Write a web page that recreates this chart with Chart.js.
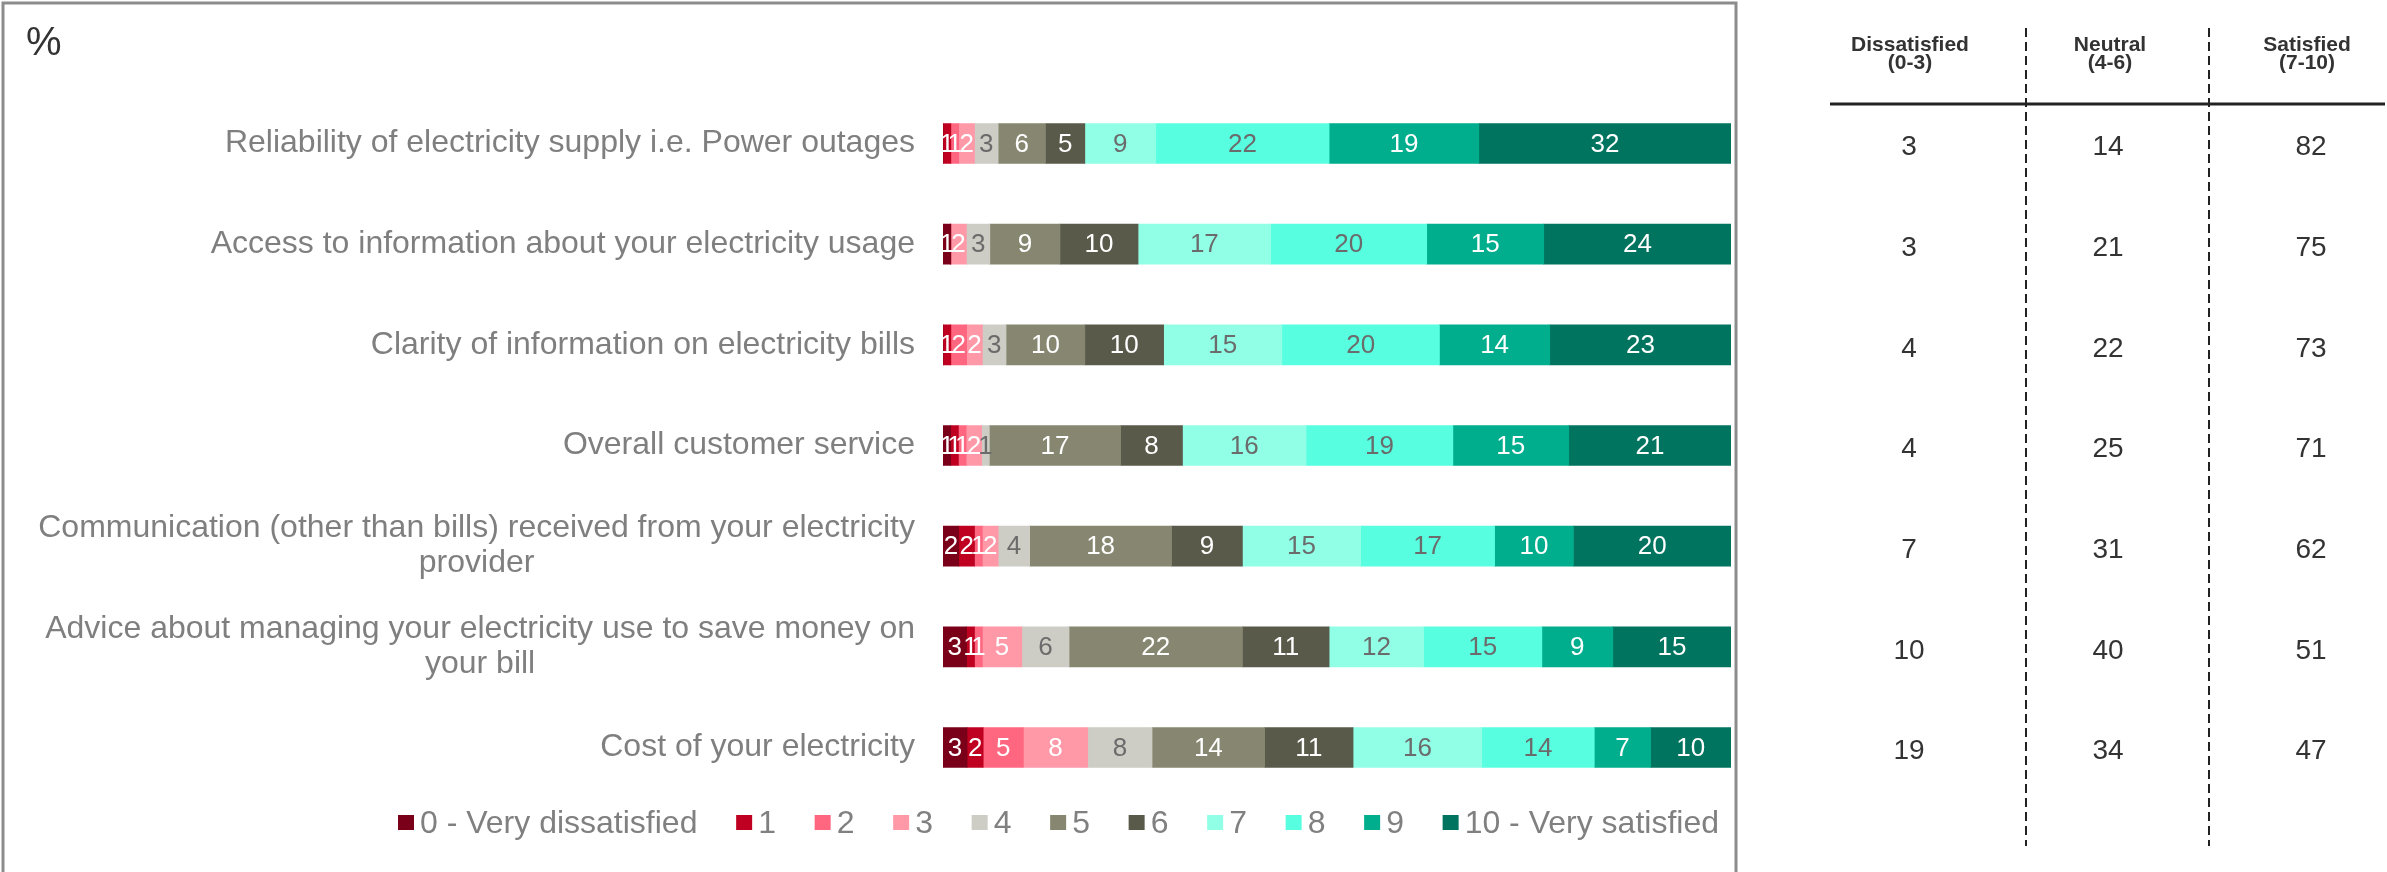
<!DOCTYPE html>
<html>
<head>
<meta charset="utf-8">
<script src="https://cdn.jsdelivr.net/npm/chart.js@4.4.1/dist/chart.umd.min.js"></script>
<style>
    html, body { margin: 0; padding: 0; background: #fff; }
</style>
</head>
<body>
<canvas id="myChart" width="2387" height="872"></canvas>
<script>
var categories = [
    'Reliability of electricity supply i.e. Power outages',
    'Access to information about your electricity usage',
    'Clarity of information on electricity bills',
    'Overall customer service',
    ['Communication (other than bills) received from your electricity', 'provider'],
    ['Advice about managing your electricity use to save money on', 'your bill'],
    'Cost of your electricity'
];

var scoreLabels = ['0 - Very dissatisfied', '1', '2', '3', '4', '5', '6', '7', '8', '9', '10 - Very satisfied'];

var score0  = [0, 1, 0, 1, 2, 3, 3];
var score1  = [1, 0, 1, 1, 2, 1, 2];
var score2  = [1, 0, 2, 1, 1, 1, 5];
var score3  = [2, 2, 2, 2, 2, 5, 8];
var score4  = [3, 3, 3, 1, 4, 6, 8];
var score5  = [6, 9, 10, 17, 18, 22, 14];
var score6  = [5, 10, 10, 8, 9, 11, 11];
var score7  = [9, 17, 15, 16, 15, 12, 16];
var score8  = [22, 20, 20, 19, 17, 15, 14];
var score9  = [19, 15, 14, 15, 10, 9, 7];
var score10 = [32, 24, 23, 21, 20, 15, 10];

var tableHeaders = [['Dissatisfied', '(0-3)'], ['Neutral', '(4-6)'], ['Satisfied', '(7-10)']];
var dissatisfied = [3, 3, 4, 4, 7, 10, 19];
var neutral      = [14, 21, 22, 25, 31, 40, 34];
var satisfied    = [82, 75, 73, 71, 62, 51, 47];

var seriesValues = [score0, score1, score2, score3, score4, score5, score6, score7, score8, score9, score10];
var colors = ['#7a0019', '#c00020', '#ff6680', '#ff99a8', '#cdcdc5', '#878771',
              '#5a5a4b', '#91ffe6', '#57ffe0', '#00ad8c', '#00745f'];
var labelColors = ['#fff', '#fff', '#fff', '#fff', '#6b6b6b', '#fff',
                   '#fff', '#6b6b6b', '#6b6b6b', '#fff', '#fff'];

var FONT = '"Liberation Sans", Arial, sans-serif';

// rows are shares of 100%, rounding makes some add to 98-102
var rowTotals = categories.map(function (c, i) {
    return seriesValues.reduce(function (s, arr) { return s + arr[i]; }, 0);
});

var datasets = seriesValues.map(function (vals, k) {
    return {
        label: scoreLabels[k],
        data: vals.map(function (v, i) { return v * 100 / rowTotals[i]; }),
        backgroundColor: colors[k],
        borderWidth: 0,
        barThickness: 40
    };
});

var extras = {
    id: 'extras',
    afterDatasetsDraw: function (chart) {
        var ctx = chart.ctx;
        ctx.save();
        ctx.font = '26px ' + FONT;
        ctx.textAlign = 'center';
        ctx.textBaseline = 'middle';
        chart.data.datasets.forEach(function (ds, k) {
            chart.getDatasetMeta(k).data.forEach(function (bar, i) {
                var v = seriesValues[k][i];
                if (!v) return;
                var p = bar.getCenterPoint();
                ctx.fillStyle = labelColors[k];
                ctx.fillText(String(v), p.x, p.y + 1);
            });
        });
        ctx.restore();
    },
    afterDraw: function (chart) {
        var ctx = chart.ctx;
        var yScale = chart.scales.y;
        ctx.save();

        // frame round the chart part
        ctx.strokeStyle = '#8c8c8c';
        ctx.lineWidth = 3;
        ctx.strokeRect(3, 3, 1733, 900);

        ctx.fillStyle = '#333';
        ctx.font = '40px ' + FONT;
        ctx.textAlign = 'left';
        ctx.textBaseline = 'middle';
        ctx.fillText('%', 26, 44);

        // category labels, right aligned block, lines centred in it
        ctx.font = '32px ' + FONT;
        ctx.fillStyle = '#7f7f7f';
        ctx.textAlign = 'center';
        categories.forEach(function (cat, i) {
            var lines = [].concat(cat);
            var widest = 0;
            lines.forEach(function (l) { widest = Math.max(widest, ctx.measureText(l).width); });
            var cx = 915 - widest / 2;
            var y = yScale.getPixelForValue(i);
            lines.forEach(function (l, j) {
                ctx.fillText(l, cx, y + (j - (lines.length - 1) / 2) * 35);
            });
        });

        // legend
        ctx.textAlign = 'left';
        var x = 398;
        chart.data.datasets.forEach(function (ds) {
            ctx.fillStyle = ds.backgroundColor;
            ctx.fillRect(x, 815, 16, 15);
            ctx.fillStyle = '#808080';
            ctx.fillText(ds.label, x + 22, 824);
            x += 22 + ctx.measureText(ds.label).width + 38.7;
        });

        // summary table
        var headX = [1910, 2110, 2307];
        var colX = [1909, 2108, 2311];
        ctx.fillStyle = '#333';
        ctx.textAlign = 'center';
        ctx.font = 'bold 21px ' + FONT;
        tableHeaders.forEach(function (h, c) {
            ctx.fillText(h[0], headX[c], 45);
            ctx.fillText(h[1], headX[c], 63);
        });

        ctx.strokeStyle = '#222';
        ctx.lineWidth = 3;
        ctx.beginPath();
        ctx.moveTo(1830, 104);
        ctx.lineTo(2385, 104);
        ctx.stroke();

        ctx.lineWidth = 2;
        ctx.setLineDash([9, 5]);
        [2026, 2209].forEach(function (lx) {
            ctx.beginPath();
            ctx.moveTo(lx, 28);
            ctx.lineTo(lx, 846);
            ctx.stroke();
        });
        ctx.setLineDash([]);

        ctx.font = '28px ' + FONT;
        [dissatisfied, neutral, satisfied].forEach(function (col, c) {
            col.forEach(function (v, i) {
                ctx.fillText(String(v), colX[c], yScale.getPixelForValue(i) + 4);
            });
        });

        ctx.restore();
    }
};

var ctx = document.getElementById('myChart').getContext('2d');
var myChart = new Chart(ctx, {
    type: 'bar',
    data: {
        labels: categories,
        datasets: datasets
    },
    options: {
        indexAxis: 'y',
        responsive: false,
        animation: false,
        layout: {
            padding: {left: 0, right: 656, top: 93.2, bottom: 74.2}
        },
        plugins: {
            legend: {display: false},
            tooltip: {enabled: false}
        },
        scales: {
            x: {
                stacked: true,
                display: false,
                min: 0,
                max: 100
            },
            y: {
                stacked: true,
                ticks: {display: false},
                grid: {display: false},
                border: {display: false},
                afterFit: function (scale) { scale.width = 943; }
            }
        }
    },
    plugins: [extras]
});
</script>
</body>
</html>
